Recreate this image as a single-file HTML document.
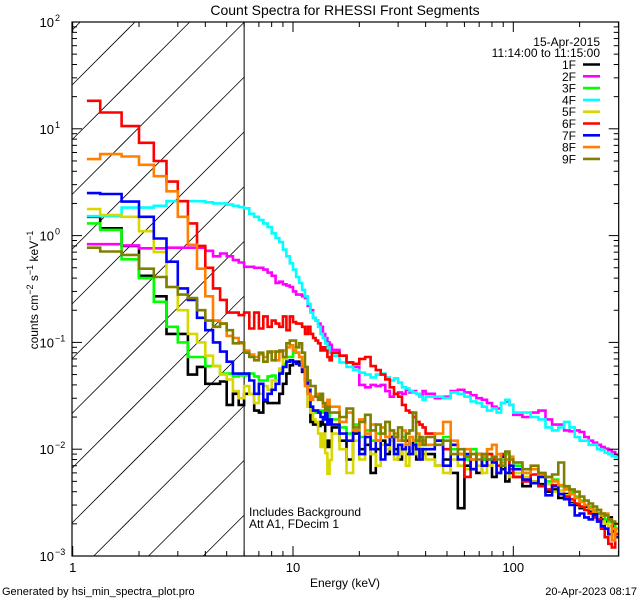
<!DOCTYPE html>
<html><head><meta charset="utf-8">
<style>
html,body{margin:0;padding:0;background:#fff;}
body{width:640px;height:600px;overflow:hidden;font-family:"Liberation Sans",sans-serif;}
svg text{font-family:"Liberation Sans",sans-serif;fill:#000;}
</style></head>
<body>
<svg id="chart" width="640" height="600" viewBox="0 0 640 600" xmlns="http://www.w3.org/2000/svg" style="display:block">
<rect x="0" y="0" width="640" height="600" fill="#fff"/>
<defs><clipPath id="plotclip"><rect x="72" y="22" width="546.7" height="534"/></clipPath></defs>
<text x="345" y="15" font-size="14" text-anchor="middle">Count Spectra for RHESSI Front Segments</text>
<g id="hatch"></g>
<g id="series" clip-path="url(#plotclip)"></g>
<g id="axes"></g>
<text x="345" y="587" font-size="12" text-anchor="middle">Energy (keV)</text>
<text transform="translate(38,290) rotate(-90)" font-size="12" text-anchor="middle">counts cm<tspan dy="-5" font-size="9">−2</tspan><tspan dy="5"> s</tspan><tspan dy="-5" font-size="9">−1</tspan><tspan dy="5"> keV</tspan><tspan dy="-5" font-size="9">−1</tspan></text>
<text x="249" y="516" font-size="12">Includes Background</text>
<text x="249" y="528" font-size="12">Att A1, FDecim 1</text>
<text x="2" y="595" font-size="11">Generated by hsi_min_spectra_plot.pro</text>
<text x="637" y="595" font-size="11" text-anchor="end">20-Apr-2023 08:17</text>
<text x="600" y="46" font-size="12" text-anchor="end">15-Apr-2015</text>
<text x="600" y="57" font-size="12" text-anchor="end">11:14:00 to 11:15:00</text>
<g id="legend"></g>
</svg>
<script>
const seriesNames = ["1F","2F","3F","4F","5F","6F","7F","8F","9F"];
const seriesColors = ["#000000","#ff00ff","#00ff00","#00ffff","#d8d800","#ff0000","#0000ff","#ff8000","#808000"];
const yTickLabels = ["2","1","0","−1","−2","−3"];
const xTickLabels = ["1","10","100"];
const s1F = [1.5,1.17,0.8,0.42,0.27,0.12,0.12,0.05,0.059,0.041,0.041,0.043,0.026,0.033,0.026,
 .033,.033,.023,.022,.028,.027,.027,.027,.033,.041,.051,.061,.066,.066,.061,.053,.044,.025,.018,.017,.017,.0165,.018,.017,.012,.0105,.012,
 .016,.012,.008,.014,.010,.011,.006,.010,.012,.009,.013,.010,.008,.011,.009,.010,.012,.008,.010,.009,
 .009,.007,.008,.006,.0028,.007,.0065,.006,.008,.007,.0055,.006,.0065,.005,.006,
 .0055,.0045,.005,.0047,.004,.0042,.0035,.0038,.0032,.003,.0028,.0029,.0026,.0024,.0025,.0022,.0021,.0023,.0019,.0018];
const s2F = [0.83,0.83,0.81,0.76,0.76,0.77,0.77,0.77,0.77,0.72,0.64,0.68,0.64,0.59,0.56,
 .51,.51,.5,.5,.48,.45,.42,.36,.37,.35,.34,.33,.30,.28,.28,.27,.26,.22,.20,.17,.16,.15,.14,.12,.11,.10,.095,
 .085,.075,.065,.059,.04,.038,.04,.039,.04,.035,.031,.033,.034,.033,.036,.034,.035,.033,.031,.035,
 .033,.03,.031,.035,.036,.034,.032,.030,.029,.027,.025,.024,.027,.028,.026,
 .021,.020,.022,.023,.019,.017,.017,.015,.0147,.015,.0145,.013,.012,.0115,.011,.0105,.0101,.0098,.0094,.0088];
const s3F = [1.3,1.13,0.6,0.4,0.24,0.14,0.1,0.073,0.073,0.06,0.06,0.051,0.051,0.048,0.049,
 .049,.051,.048,.044,.044,.048,.049,.044,.053,.063,.073,.073,.08,.08,.073,.059,.044,.033,.025,.023,.022,.023,.023,.022,.019,.022,.019,
 .019,.016,.014,.017,.013,.015,.012,.014,.016,.013,.015,.014,.012,.013,.011,.013,.012,.010,.012,.011,
 .011,.012,.013,.010,.009,.008,.010,.009,.008,.009,.008,.007,.008,.009,.007,
 .007,.006,.0065,.0055,.005,.0052,.0045,.0043,.004,.0036,.0033,.003,.0029,.0027,.0025,.0024,.0022,.0021,.002,.0016];
const s4F = [1.52,1.52,1.83,1.83,1.9,2.1,2.1,2.1,2.1,2.05,2.0,2.0,1.95,1.9,1.85,
 1.8,1.6,1.5,1.4,1.3,1.2,1.05,0.95,0.87,0.74,0.64,0.55,0.48,0.41,0.36,0.31,0.27,0.23,0.19,0.17,0.16,0.14,0.12,0.11,0.098,0.09,0.08,
 .075,.065,.059,.055,.052,.05,.047,.05,.051,.047,.044,.046,.042,.038,.037,.035,.034,.033,.031,.029,
 .031,.031,.030,.034,.033,.031,.028,.027,.025,.023,.024,.022,.027,.029,.026,
 .022,.022,.020,.019,.016,.015,.016,.018,.016,.013,.012,.012,.011,.011,.010,.0098,.0093,.009,.0086,.0084];
const s5F = [1.77,1.56,1.5,1.1,0.7,0.33,0.2,0.12,0.1,0.075,0.06,0.05,0.045,0.035,0.03,
 .039,.033,.027,.033,.039,.036,.044,.044,.057,.071,.09,.094,.09,.08,.073,.055,.039,.025,.022,.019,.018,.014,.0105,.014,.0092,.0059,.0079,
 .014,.010,.006,.012,.008,.013,.009,.007,.011,.010,.012,.008,.009,.011,.007,.010,.009,.011,.008,.010,
 .008,.007,.006,.008,.007,.0065,.009,.007,.006,.007,.0075,.006,.007,.006,.0055,
 .006,.0055,.005,.0045,.0047,.004,.0041,.0037,.0033,.0031,.0029,.0027,.0025,.0026,.0022,.0021,.002,.0019,.0018,.0017];
const s6F = [18.3,14.2,10.6,7.4,5.0,3.2,2.1,1.3,0.8,0.5,0.32,0.25,0.19,0.19,0.18,
 .19,.135,.19,.135,.175,.14,.16,.15,.14,.175,.13,.175,.155,.15,.15,.14,.12,.14,.12,.11,.104,.098,.084,.09,.084,.073,.068,
 .08,.075,.065,.063,.07,.073,.06,.055,.05,.045,.038,.033,.031,.026,.023,.022,.020,.018,.017,.016,
 .014,.012,.010,.011,.009,.0055,.008,.009,.007,.009,.008,.007,.009,.008,.0065,
 .0055,.005,.0058,.0045,.0042,.0046,.0038,.0036,.0034,.0031,.0029,.0027,.0025,.0023,.0022,.0018,.0015,.0013,.0012,.0016];
const s7F = [2.5,2.45,2.08,1.5,0.94,0.57,0.32,0.25,0.17,0.13,0.1,0.082,0.066,0.051,0.051,
 .051,.044,.033,.041,.029,.033,.036,.041,.051,.059,.066,.068,.066,.063,.063,.055,.044,.036,.025,.023,.023,.022,.02,.019,.022,.017,.019,
 .017,.014,.012,.015,.009,.013,.010,.012,.008,.011,.013,.009,.011,.010,.012,.009,.011,.010,.008,.010,
 .010,.012,.007,.011,.008,.009,.0065,.009,.007,.008,.0075,.006,.0085,.006,.007,
 .0065,.0052,.0048,.0055,.0037,.0045,.0038,.0034,.003,.0024,.0025,.0023,.0022,.0025,.0021,.0019,.0018,.0016,.0017,.0015];
const s8F = [5.2,5.8,5.5,4.6,3.6,2.6,1.5,0.82,0.49,0.27,0.16,0.15,0.115,0.11,0.098,
 .084,.077,.073,.077,.073,.08,.082,.068,.082,.084,.09,.094,.084,.08,.073,.059,.039,.033,.029,.031,.033,.029,.033,.025,.023,.029,.025,
 .025,.018,.022,.015,.019,.014,.017,.012,.016,.013,.015,.014,.012,.015,.011,.013,.012,.014,.011,.012,
 .011,.014,.018,.012,.009,.010,.008,.009,.0085,.010,.011,.009,.0075,.008,.0085,
 .0075,.006,.0065,.0058,.0055,.005,.0046,.0042,.0038,.0035,.0032,.003,.0028,.0026,.0027,.0024,.0025,.0022,.0014,.0018];
const s9F = [0.77,0.71,0.66,0.49,0.41,0.33,0.28,0.26,0.2,0.16,0.14,0.15,0.13,0.098,0.1,
 .08,.073,.068,.08,.066,.082,.068,.082,.084,.073,.098,.104,.104,.09,.098,.08,.059,.044,.039,.039,.031,.029,.033,.027,.023,.025,.022,
 .022,.020,.024,.016,.018,.021,.015,.017,.014,.018,.015,.013,.016,.012,.014,.015,.022,.012,.013,.011,
 .013,.011,.012,.009,.010,.0085,.009,.008,.009,.008,.0085,.008,.007,.0095,.008,
 .0075,.0065,.007,.006,.0055,.0058,.0075,.0045,.0042,.004,.0036,.0033,.0031,.0029,.0027,.0025,.0024,.0022,.0021,.002];
const allSeries = [s1F,s2F,s3F,s4F,s5F,s6F,s7F,s8F,s9F];

// energy bin edges (categories)
const edges = [1.16];
for (let k=4;k<=45;k++) edges.push(k/3);
for (let k=1;k<=20;k++) edges.push(15+1.25*k);
for (let k=1;k<=15;k++) edges.push(40+4*k);
for (let k=1;k<=20;k++) edges.push(100+10*k);

const NS="http://www.w3.org/2000/svg";
const X0=72.7, XD=220.3, Y0=22, YD=106.8;
function xS(e){return X0+XD*Math.log10(e);}
function yS(v){return Y0+(2-Math.log10(v))*YD;}
function mk(tag,attrs,parent){const el=document.createElementNS(NS,tag);for(const k in attrs)el.setAttribute(k,attrs[k]);parent.appendChild(el);return el;}

// hatch lines, clipped manually to the attenuator region
const hatch=document.getElementById('hatch');
const HX0=72, HX1=xS(6), HY0=22, HY1=556;
for(let k=-10;k<14;k++){
  const c=85+54.75*k; // y at x=72; line y = c - (x-72)
  const xa=Math.max(HX0, 72+c-HY1), xb=Math.min(HX1, 72+c-HY0);
  if(xb<=xa) continue;
  const ln=mk('line',{x1:xa,y1:c-(xa-72),x2:xb,y2:c-(xb-72),stroke:'#000','stroke-width':0.8},hatch);
  
  
}
const vl=mk('line',{x1:xS(6),y1:22,x2:xS(6),y2:556,stroke:'#000','stroke-width':1},document.getElementById('series'));



// series
const sg=document.getElementById('series');
allSeries.forEach((vals,si)=>{
  let d='';
  for(let i=0;i<vals.length&&i+1<edges.length;i++){
    const y=yS(vals[i]).toFixed(1), xa=xS(edges[i]).toFixed(1), xb=Math.min(618.7,xS(edges[i+1])).toFixed(1);
    d+=(i===0?'M':'L')+xa+','+y+'L'+xb+','+y;
  }
  const p=mk('path',{d:d,fill:'none',stroke:seriesColors[si],'stroke-width':2.6,'stroke-linejoin':'miter'},sg);
  
  
});

// axes
const ax=document.getElementById('axes');
const L=72,R=618.7,T=22,B=556;
const frame=mk('rect',{x:L,y:T,width:R-L,height:B-T,fill:'none',stroke:'#000','stroke-width':1.2},ax);


for(let dec=-3;dec<=2;dec++){
  for(let m=1;m<=9;m++){
    const v=m*Math.pow(10,dec); if(dec===2&&m>1) continue;
    const y=yS(v), len=(m===1)?10:5;
    mk('line',{x1:L,y1:y,x2:L+len,y2:y,stroke:'#000','stroke-width':1},ax);
    mk('line',{x1:R,y1:y,x2:R-len,y2:y,stroke:'#000','stroke-width':1},ax);
  }
}
yTickLabels.forEach((lab,i)=>{
  const y=yS(Math.pow(10,2-i));
  const t=mk('text',{x:54,y:y+5,'font-size':13,'text-anchor':'end'},ax);
  t.textContent='10';
  
  
  const s=mk('text',{x:55,y:y-1,'font-size':9},ax);
  s.textContent=lab;
  
  
});
[1,10,100].forEach(dec=>{
  for(let m=1;m<=9;m++){
    const e=m*dec; if(e>300) continue;
    const x=xS(e), len=(m===1)?10:5;
    mk('line',{x1:x,y1:B,x2:x,y2:B-len,stroke:'#000','stroke-width':1},ax);
    mk('line',{x1:x,y1:T,x2:x,y2:T+len,stroke:'#000','stroke-width':1},ax);
  }
});
xTickLabels.forEach((lab,i)=>{
  const t=mk('text',{x:xS(Math.pow(10,i)),y:572,'font-size':13,'text-anchor':'middle'},ax);
  t.textContent=lab;
  
  
});

// legend
const lg=document.getElementById('legend');
seriesNames.forEach((n,i)=>{
  const y=64.5+11.8*i;
  const t=mk('text',{x:576,y:y+4.5,'font-size':12,'text-anchor':'end'},lg);
  t.textContent=n;
  
  
  const l=mk('line',{x1:583,y1:y,x2:600,y2:y,stroke:seriesColors[i],'stroke-width':2.6},lg);
  
  
});
</script>
</body></html>
